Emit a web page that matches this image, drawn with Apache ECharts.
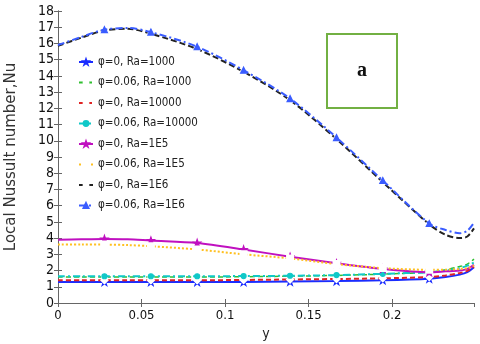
<!DOCTYPE html>
<html>
<head>
<meta charset="utf-8">
<script src="https://cdn.jsdelivr.net/npm/echarts@6/dist/echarts.min.js"></script>
<style>
  html, body { margin: 0; padding: 0; background: #fff; }
  #chart { width: 480px; height: 344px; }
</style>
</head>
<body>
<div id="chart"></div>
<script>
// x positions (y coordinate along the wall)
const xs = [0, 0.0139, 0.0278, 0.0417, 0.0556, 0.0833, 0.1111, 0.1389, 0.1667, 0.1944, 0.2222, 0.232, 0.2405, 0.245, 0.249]
// indices of xs that carry a marker
const markerIdx = [2, 4, 5, 6, 7, 8, 9, 10]

const names = [
  'φ=0, Ra=1000', 'φ=0.06, Ra=1000', 'φ=0, Ra=10000', 'φ=0.06, Ra=10000',
  'φ=0, Ra=1E5', 'φ=0.06, Ra=1E5', 'φ=0, Ra=1E6', 'φ=0.06, Ra=1E6'
]

const nuRa1e3Phi0 = [1.3, 1.3, 1.3, 1.3, 1.3, 1.3, 1.3, 1.32, 1.35, 1.4, 1.5, 1.6, 1.75, 1.9, 2.2]
const nuRa1e3Phi6 = [1.6, 1.6, 1.6, 1.6, 1.6, 1.6, 1.62, 1.65, 1.7, 1.78, 1.9, 2.05, 2.25, 2.4, 2.7]
const nuRa1e4Phi0 = [1.4, 1.4, 1.4, 1.4, 1.4, 1.4, 1.42, 1.45, 1.48, 1.52, 1.6, 1.7, 1.85, 1.98, 2.25]
const nuRa1e4Phi6 = [1.65, 1.65, 1.65, 1.65, 1.65, 1.65, 1.66, 1.68, 1.72, 1.8, 1.9, 2.0, 2.15, 2.3, 2.5]
const nuRa1e5Phi0 = [3.9, 3.93, 3.95, 3.93, 3.85, 3.7, 3.3, 2.85, 2.45, 2.1, 1.9, 1.95, 2.0, 2.1, 2.35]
const nuRa1e5Phi6 = [3.6, 3.6, 3.6, 3.57, 3.5, 3.3, 3.0, 2.75, 2.4, 2.15, 2.05, 2.05, 2.1, 2.15, 2.3]
const nuRa1e6Phi0 = [15.85, 16.35, 16.8, 16.9, 16.6, 15.65, 14.25, 12.5, 10.1, 7.45, 4.85, 4.2, 4.0, 4.1, 4.6]
const nuRa1e6Phi6 = [15.9, 16.4, 16.85, 16.95, 16.7, 15.8, 14.35, 12.6, 10.2, 7.55, 4.9, 4.5, 4.3, 4.45, 4.95]

const yTicks = [0, 18, 1]

const star = 'path://M0,-10 L2.5,-3 L10,-3 L4,1.5 L6.5,9 L0,4.5 L-6.5,9 L-4,1.5 L-10,-3 L-2.5,-3 Z'

const styles = [
  { color: '#1a2cff', type: 'solid', width: 2, symbol: star, size: 7, fill: true },
  { color: '#2fbf2f', type: [5, 3], width: 1.5, symbol: 'emptyCircle', size: 5 },
  { color: '#e02424', type: [5, 3], width: 2, symbol: 'emptyDiamond', size: 6 },
  { color: '#10c8c8', type: [7, 3, 2, 3], width: 2, symbol: 'circle', size: 5, fill: true },
  { color: '#c010c0', type: 'solid', width: 2, symbol: star, size: 7, fill: true },
  { color: '#ffc020', type: [2, 2], width: 2, symbol: 'emptyRect', size: 6 },
  { color: '#222222', type: [6, 3], width: 2, symbol: 'emptyCircle', size: 5 },
  { color: '#3a5cff', type: [7, 3, 2, 3], width: 2, symbol: 'triangle', size: 6, fill: true }
]

const values = [nuRa1e3Phi0, nuRa1e3Phi6, nuRa1e4Phi0, nuRa1e4Phi6, nuRa1e5Phi0, nuRa1e5Phi6, nuRa1e6Phi0, nuRa1e6Phi6]

const series = values.map((vals, i) => {
  const s = styles[i]
  return {
    name: names[i],
    type: 'line',
    smooth: 0.3,
    symbol: s.symbol,
    symbolSize: s.size,
    showAllSymbol: true,
    color: s.color,
    lineStyle: { color: s.color, type: s.type, width: s.width },
    itemStyle: { color: s.fill ? s.color : '#fff', borderColor: s.color, borderWidth: 1.2 },
    data: vals.map((v, j) => {
      const item = { value: [xs[j], v] }
      if (markerIdx.indexOf(j) < 0) item.symbol = 'none'
      return item
    }),
    z: 2 + i
  }
})

const font = 'DejaVu Sans Condensed'
const axisColor = '#666'

const option = {
  animation: false,
  backgroundColor: '#fff',
  grid: { left: 58, top: 11, right: 6, bottom: 41, outerBoundsMode: 'none' },
  legend: {
    orient: 'vertical',
    left: 78,
    top: 56,
    padding: 0,
    itemGap: 8.5,
    itemWidth: 14,
    itemHeight: 6,
    data: names,
    textStyle: { fontFamily: font, fontSize: 11.5, color: '#222' }
  },
  xAxis: [{
    type: 'value',
    min: 0,
    max: 0.249,
    interval: 0.05,
    name: 'y',
    nameLocation: 'middle',
    nameGap: 22,
    nameTextStyle: { fontFamily: font, fontSize: 14, color: '#222' },
    axisLine: { lineStyle: { color: axisColor, width: 1 } },
    axisTick: { inside: true, length: 4, lineStyle: { color: axisColor } },
    axisLabel: { fontFamily: font, fontSize: 13, color: '#111', margin: 6, showMaxLabel: false },
    splitLine: { show: false }
  }, {
    type: 'value',
    position: 'top',
    min: 0,
    max: 0.249,
    interval: 0.05,
    axisLine: { lineStyle: { color: axisColor, width: 1 } },
    axisTick: { inside: true, length: 4, lineStyle: { color: axisColor } },
    axisLabel: { show: false },
    splitLine: { show: false }
  }],
  yAxis: [{
    type: 'value',
    min: yTicks[0],
    max: yTicks[1],
    interval: yTicks[2],
    name: 'Local Nussult number,Nu',
    nameLocation: 'middle',
    nameGap: 39,
    nameTextStyle: { fontFamily: 'DejaVu Sans', fontSize: 15, color: '#333' },
    axisLine: { show: true, lineStyle: { color: axisColor, width: 1 } },
    axisTick: { inside: true, length: 4, lineStyle: { color: axisColor } },
    axisLabel: { fontFamily: font, fontSize: 14, color: '#111', margin: 4 },
    splitLine: { show: false }
  }, {
    type: 'value',
    position: 'right',
    min: yTicks[0],
    max: yTicks[1],
    interval: yTicks[2],
    axisLine: { show: true, lineStyle: { color: axisColor, width: 1 } },
    axisTick: { show: true, inside: true, length: 4, lineStyle: { color: axisColor } },
    axisLabel: { show: false },
    splitLine: { show: false }
  }],
  graphic: [{
    type: 'group',
    left: 326,
    top: 33,
    children: [{
      type: 'rect',
      shape: { x: 0, y: 0, width: 70, height: 74 },
      style: { fill: '#fff', stroke: '#72b043', lineWidth: 2 }
    }, {
      type: 'text',
      x: 35,
      y: 37,
      style: {
        text: 'a',
        fontFamily: 'Liberation Serif',
        fontWeight: 'bold',
        fontSize: 20,
        fill: '#111',
        align: 'center',
        verticalAlign: 'middle'
      }
    }]
  }],
  series
}

const myChart = echarts.init(document.getElementById('chart'))
myChart.setOption(option)
</script>
</body>
</html>
